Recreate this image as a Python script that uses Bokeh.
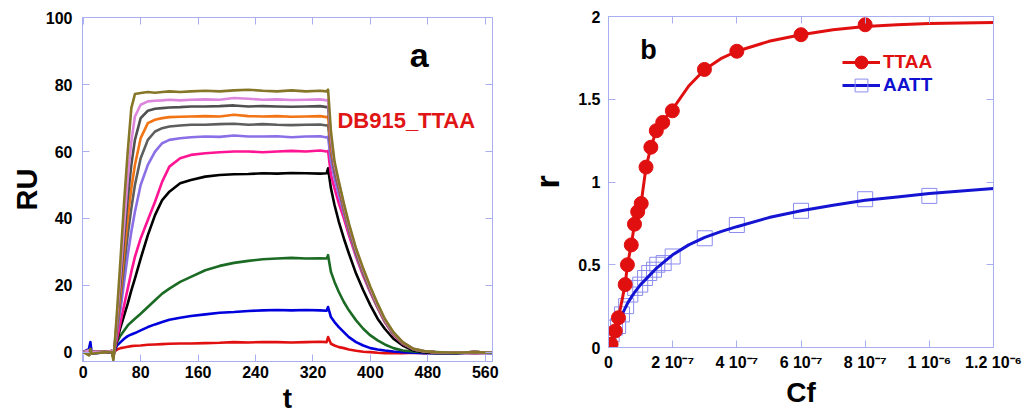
import math
from bokeh.plotting import figure
from bokeh.models import (LinearAxis, FixedTicker, Range1d, Label, Legend, LegendItem,
                          CustomJSTickFormatter)
from bokeh.layouts import row, column
from bokeh.embed import file_html
from bokeh.resources import INLINE

# ---------------- panel a : sensorgrams ----------------
t = [0, 8, 10, 12, 30, 40, 42, 43, 47, 52, 57, 62, 67, 72, 80, 90, 100, 110, 120, 135,
     150, 170, 190, 210, 230, 250, 270, 290, 310, 330, 339, 341, 345, 350, 356, 363, 370,
     380, 390, 400, 410, 420, 432, 445, 460, 475, 490, 520, 545, 570]

ru_olive = [0, -1, 1, -0.5, 0, 0, -2.5, 0, 12, 28, 45, 60, 73, 77.2,
            77.5, 77.8, 77.6, 77.8, 78, 77.8, 78, 78.2, 78, 78.3, 78.5, 78.2, 78, 78.3, 78, 78.2, 78, 78.5,
            66, 57, 51, 44.5, 38.5, 31, 25, 19.5, 14.5, 10, 6, 3, 1, 0.3, 0, -0.2, 0, -0.2]
ru_orchid = [0, 0.5, -0.5, 0, 0, 0.3, -1.5, 0, 10, 24, 38, 52, 63, 70.5,
             74, 75, 75.2, 75.3, 75.5, 75.3, 75.5, 75.6, 75.5, 76, 75.8, 75.5, 75.6, 75.4, 75.5, 75.6, 75.3, 75.5,
             64, 56, 50.5, 44, 38, 30.5, 24.5, 19, 14, 9.7, 5.8, 2.9, 1, 0.3, 0, -0.2, 0, -0.2]
ru_gray1 = [0, 0.5, -0.5, 0, 0, 0.3, -1.5, 0, 9, 21, 34, 46, 56, 63.5,
            70, 72.2, 72.8, 73, 73.2, 73.3, 73.5, 73.5, 73.6, 73.8, 73.5, 73.6, 73.5, 73.4, 73.5, 73.6, 73.3, 73.5,
            63, 55.5, 50, 43.5, 37.5, 30, 24, 18.7, 13.8, 9.5, 5.6, 2.8, 0.9, 0.2, 0, -0.2, 0, -0.2]
ru_orange = [0, 0.5, -0.5, 0, 0, 0.3, -1.5, 0, 8, 18, 30, 40, 49, 56,
             64, 68.5, 69.5, 70, 70.3, 70.4, 70.5, 70.6, 70.5, 71, 70.6, 70.5, 70.6, 70.4, 70.5, 70.6, 70.3, 70.5,
             61, 55, 49.5, 43, 37, 29.8, 23.8, 18.5, 13.6, 9.4, 5.5, 2.7, 0.9, 0.2, 0, -0.2, 0, -0.2]
ru_gray2 = [0, 0.5, -0.5, 0, 0, 0.3, -1.5, 0, 7, 16, 26, 35, 43, 50,
            58, 63.5, 66, 67, 67.5, 67.8, 68, 68, 68.2, 68.3, 68, 68.2, 68, 67.9, 68, 68.1, 67.8, 68,
            60, 54, 49, 42.5, 36.5, 29.5, 23.5, 18.3, 13.5, 9.3, 5.4, 2.6, 0.8, 0.2, 0, -0.2, 0, -0.2]
ru_purple = [0, 0.5, -0.5, 0, 0, 0.3, -1.5, 0, 6, 13, 21, 29, 36, 42,
             50, 56, 60, 62.5, 63.5, 64, 64.3, 64.5, 64.4, 64.8, 64.5, 64.5, 64.6, 64.3, 64.5, 64.6, 64.2, 64.5,
             57, 52, 47, 41.5, 36, 29, 23.2, 18, 13.3, 9.2, 5.3, 2.6, 0.8, 0.2, 0, -0.2, 0, -0.2]
ru_pink = [0, 0.5, -0.5, 0, 0, 0.3, -1.5, 0, 4, 9, 14, 19, 24, 28.5,
           34, 39.5, 45, 51, 55.5, 58, 59, 59.5, 59.8, 60, 60, 59.8, 60, 60.2, 60, 60.3, 60, 60.2,
           53, 49, 44.5, 40, 35, 28.5, 22.8, 17.8, 13.2, 9, 5.2, 2.5, 0.8, 0.2, 0, -0.2, 0, -0.2]
ru_black = [0, 0.5, -0.5, 0, 0, 0.3, -1.5, 0, 3.5, 7.5, 11, 14.5, 18.5, 22,
            28, 35, 41, 45.5, 48, 50.5, 51.5, 52.5, 53, 53.2, 53.3, 53.5, 53.4, 53.6, 53.5, 53.4, 53.5, 55,
            49, 44, 39, 34, 29.5, 23.5, 18.5, 14, 10, 7, 4, 2, 0.5, 0, -0.3, -0.3, 0, -0.2]
ru_green = [0, 0.5, -0.5, 0, 0, 0.2, -1, 0, 3, 5, 6.5, 8, 9, 10,
            11.5, 13.5, 15.5, 17.5, 19, 21, 22.5, 24.5, 25.8, 26.7, 27.3, 27.8, 28, 28.2, 28, 28.1, 28, 29,
            24, 21, 18, 15, 12.5, 9.5, 7, 5, 3.5, 2.3, 1.2, 0.5, 0.2, 0, 0, -0.2, 0, -0.2]
ru_blue = [0, 1, 3, -0.5, 0, 0, -1, 0, 2, 3, 4, 4.8, 5.3, 5.7,
           6.5, 7.5, 8.3, 9, 9.7, 10.3, 10.8, 11.3, 11.8, 12, 12.3, 12.5, 12.6, 12.5, 12.6, 12.5, 12.4, 13.5,
           10.5, 9, 7.5, 6, 4.5, 3, 2, 1.2, 0.8, 0.5, 0.2, 0, -0.2, -0.3, -0.3, -0.3, -0.2, -0.3]
ru_red = [0, 0, 0.5, 0, 0, 0, -0.5, 0, 0.8, 1.2, 1.4, 1.6, 1.8, 1.9,
          2, 2.2, 2.3, 2.4, 2.5, 2.6, 2.6, 2.7, 2.8, 3, 2.9, 3, 3, 2.9, 3, 3.1, 3, 4.5,
          2.5, 2, 1.5, 1.2, 0.8, 0.4, 0.1, 0, -0.2, -0.3, -0.3, -0.3, -0.2, -0.3, -0.2, -0.2, -0.3, -0.2]

t_ticks = [0, 80, 160, 240, 320, 400, 480, 560]
ru_ticks = [0, 20, 40, 60, 80, 100]

# ---------------- panel b : binding isotherms ----------------
ttaa_cf = [0, 0.8e-8, 2.1e-8, 3.1e-8, 5.2e-8, 5.9e-8, 7.1e-8, 8.1e-8, 9.1e-8, 1.02e-7,
           1.17e-7, 1.32e-7, 1.49e-7, 1.69e-7, 1.99e-7, 2.99e-7, 4.0e-7, 6.0e-7, 8.0e-7]
ttaa_r = [0.005, 0.02, 0.10, 0.18, 0.38, 0.50, 0.62, 0.745, 0.82, 0.87,
          1.09, 1.21, 1.31, 1.36, 1.43, 1.68, 1.79, 1.89, 1.95]
aatt_cf = [0, 1.0e-8, 2.0e-8, 3.0e-8, 4.2e-8, 5.5e-8, 6.8e-8, 8.3e-8, 9.9e-8, 1.14e-7,
           1.27e-7, 1.42e-7, 1.52e-7, 1.72e-7, 2.0e-7, 3.0e-7, 4.0e-7, 6.0e-7, 8.0e-7, 1.0e-6]
aatt_r = [0.04, 0.08, 0.12, 0.13, 0.20, 0.25, 0.32, 0.36, 0.38, 0.42,
          0.45, 0.47, 0.50, 0.51, 0.55, 0.66, 0.74, 0.826, 0.896, 0.916]
ttaa_fit_cf = [0, 2.1e-8, 3.1e-8, 5.2e-8, 5.9e-8, 7.1e-8, 8.1e-8, 9.1e-8, 1.02e-7, 1.17e-7,
               1.32e-7, 1.49e-7, 1.69e-7, 2.0e-7, 2.5e-7, 3.0e-7, 3.5e-7, 4.0e-7, 5.0e-7, 6.0e-7,
               7.0e-7, 8.0e-7, 9.0e-7, 1.0e-6, 1.1e-6, 1.2e-6]
ttaa_fit_r = [0, 0.10, 0.18, 0.38, 0.50, 0.62, 0.745, 0.82, 0.876, 1.09,
              1.21, 1.31, 1.37, 1.44, 1.58, 1.68, 1.745, 1.79, 1.85, 1.89,
              1.92, 1.94, 1.95, 1.957, 1.961, 1.964]
aatt_fit_cf = [0, 2e-8, 4e-8, 6e-8, 8e-8, 1e-7, 1.25e-7, 1.5e-7, 1.75e-7, 2e-7, 2.5e-7,
               3e-7, 3.5e-7, 4e-7, 5e-7, 6e-7, 7e-7, 8e-7, 9e-7, 1e-6, 1.1e-6, 1.2e-6]
aatt_fit_r = [0, 0.07, 0.19, 0.27, 0.33, 0.38, 0.43, 0.48, 0.52, 0.56, 0.62,
              0.665, 0.70, 0.73, 0.785, 0.826, 0.86, 0.89, 0.91, 0.93, 0.946, 0.96]

cf_ticks = [0, 2e-7, 4e-7, 6e-7, 8e-7, 1e-6, 1.2e-6]
cf_tick_labels = ["0", "2 10\u207b\u2077", "4 10\u207b\u2077", "6 10\u207b\u2077",
                  "8 10\u207b\u2077", "1 10\u207b\u2076", "1.2 10\u207b\u2076"]
r_ticks = [0, 0.5, 1, 1.5, 2]
r_tick_labels = ["0", "0.5", "1", "1.5", "2"]

FONT = "Liberation Sans"
FRAME = "#a9aef0"


def style_axis(ax, ticks, label, label_size, label_standoff, tick_standoff):
    ax.ticker = FixedTicker(ticks=ticks)
    ax.axis_line_color = FRAME
    ax.major_tick_line_color = FRAME
    ax.major_tick_in = 7
    ax.major_tick_out = 0
    ax.minor_tick_line_color = None
    ax.major_label_text_font = FONT
    ax.major_label_text_font_style = "bold"
    ax.major_label_text_font_size = "16px"
    ax.major_label_text_color = "black"
    ax.major_label_standoff = tick_standoff
    ax.axis_label = label
    ax.axis_label_text_font = FONT
    ax.axis_label_text_font_style = "bold"
    ax.axis_label_text_font_size = label_size
    ax.axis_label_text_color = "black"
    ax.axis_label_standoff = label_standoff


def frame_box(p, xticks, yticks):
    p.xgrid.visible = False
    p.ygrid.visible = False
    p.outline_line_color = FRAME
    p.outline_line_width = 1
    for loc, ticks in (("above", xticks), ("right", yticks)):
        ax = LinearAxis(ticker=FixedTicker(ticks=ticks), axis_line_color=FRAME,
                        major_tick_line_color=FRAME, major_tick_in=7, major_tick_out=0,
                        minor_tick_line_color=None, major_label_text_font_size="1px",
                        major_label_standoff=0,
                        formatter=CustomJSTickFormatter(code="return '';"))
        p.add_layout(ax, loc)


def label(p, text, x, y, size, align="center", color="black"):
    p.add_layout(Label(x=x, y=y, text=text, text_align=align, text_baseline="middle",
                       text_font=FONT, text_font_style="bold", text_font_size=size,
                       text_color=color))


# ---- panel a
p1 = figure(width=520, height=418, x_range=Range1d(-1, 570), y_range=Range1d(-2.8, 100.1),
            output_backend="svg", toolbar_location=None,
            min_border_left=82, min_border_right=28, min_border_top=17, min_border_bottom=57)
style_axis(p1.below[0], t_ticks, "t", "28px", 2, 4)
style_axis(p1.left[0], ru_ticks, "RU", "29px", 0, 10)
frame_box(p1, t_ticks, ru_ticks)

series = [(ru_red, "#e01010"), (ru_blue, "#0000dd"), (ru_green, "#1c6b24"),
          (ru_black, "#000000"), (ru_pink, "#ff1493"), (ru_purple, "#8a6fe6"),
          (ru_gray2, "#5e5e5e"), (ru_orange, "#f27414"), (ru_gray1, "#505050"),
          (ru_orchid, "#dc86dc"), (ru_olive, "#867628")]
for ys, col in series:
    p1.line(t, ys, line_color=col, line_width=2.6, line_join="round")

label(p1, "a", 468, 89, "34px")
label(p1, "DB915_TTAA", 354, 69.2, "22px", align="left", color="#e01515")

# ---- panel b
p2 = figure(width=514, height=418, x_range=Range1d(0, 1.2e-6), y_range=Range1d(0, 2),
            output_backend="svg", toolbar_location=None,
            min_border_left=88, min_border_right=41, min_border_top=16, min_border_bottom=71)
style_axis(p2.below[0], cf_ticks, "Cf", "28px", 3, 6)
style_axis(p2.left[0], r_ticks, "r", "34px", 9, 8)
p2.below[0].formatter = CustomJSTickFormatter(args=dict(labels=cf_tick_labels),
                                              code="return labels[index];")
p2.left[0].formatter = CustomJSTickFormatter(args=dict(labels=r_tick_labels),
                                             code="return labels[index];")
frame_box(p2, cf_ticks, r_ticks)

b_pts = p2.scatter(aatt_cf, aatt_r, marker="square", size=15, fill_color=None,
                   line_color="#8c8cf0", line_width=1)
b_line = p2.line(aatt_fit_cf, aatt_fit_r, line_color="#1414d2", line_width=3)
r_line = p2.line(ttaa_fit_cf, ttaa_fit_r, line_color="#e01010", line_width=3)
r_pts = p2.scatter(ttaa_cf, ttaa_r, marker="circle", size=14, fill_color="#e01010",
                   line_color="#e01010")

for lab, rends, col, vy in (("TTAA", [r_line, r_pts], "#e01010", 269),
                            ("AATT", [b_line, b_pts], "#1010d0", 246)):
    leg = Legend(items=[LegendItem(label=lab, renderers=rends)], location=(234, vy),
                 glyph_width=38, glyph_height=32, label_height=32, label_standoff=3,
                 padding=0, margin=0, border_line_color=None, background_fill_alpha=0,
                 label_text_font=FONT, label_text_font_style="bold",
                 label_text_font_size="19px", label_text_color=col)
    p2.add_layout(leg, "center")

label(p2, "b", 1.25e-7, 1.80, "27px")

layout = row(column(p1), column(p2))
open("out.html", "w").write(file_html(layout, INLINE))
